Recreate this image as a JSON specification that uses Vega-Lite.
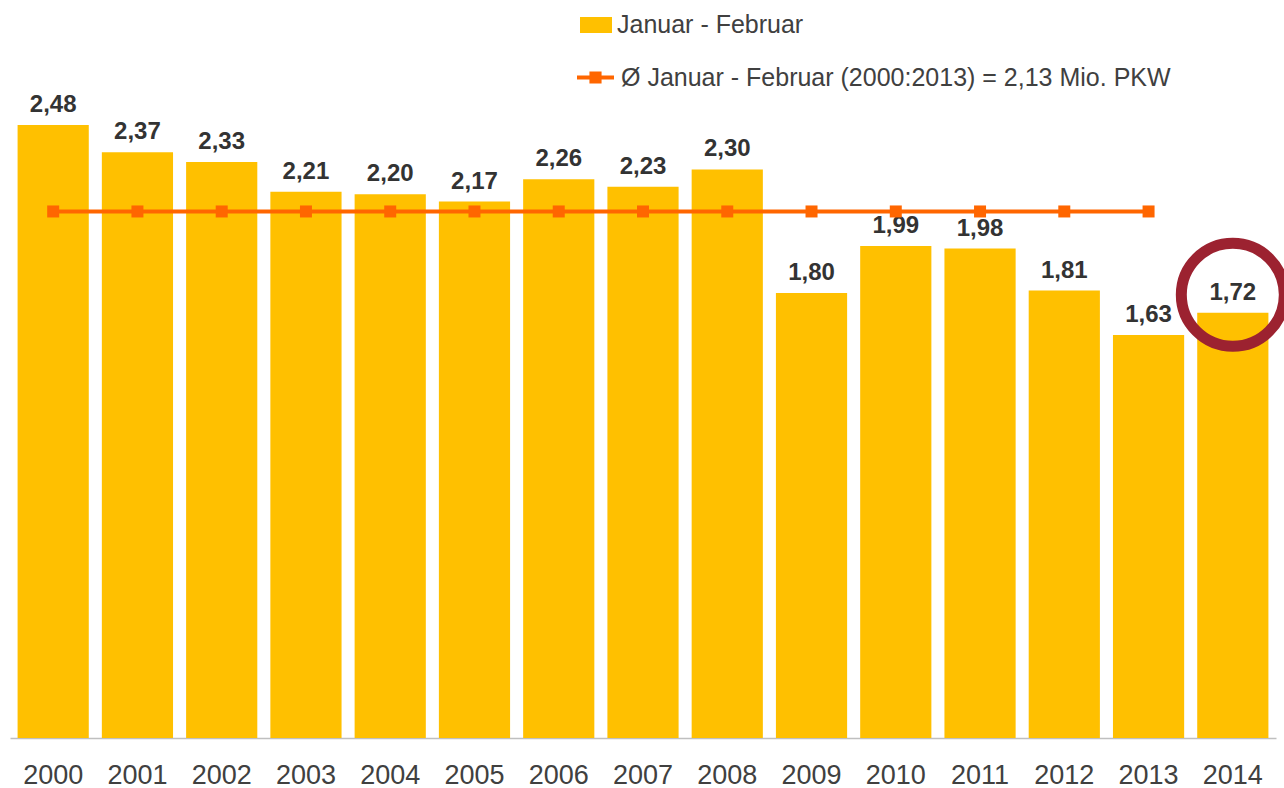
{
  "$schema": "https://vega.github.io/schema/vega-lite/v6.json",
  "autosize": {"type": "none"},
  "width": 1266,
  "height": 618,
  "padding": {"left": 10, "top": 120, "right": 8, "bottom": 50},
  "background": "white",
  "config": {
    "view": {"stroke": null},
    "font": "Liberation Sans",
    "locale": {"number": {"decimal": ",", "thousands": ".", "grouping": [3], "currency": ["", " €"]}}
  },
  "data": {
    "values": [
      {"year": "2000", "value": 2.48, "avg": 2.13},
      {"year": "2001", "value": 2.37, "avg": 2.13},
      {"year": "2002", "value": 2.33, "avg": 2.13},
      {"year": "2003", "value": 2.21, "avg": 2.13},
      {"year": "2004", "value": 2.20, "avg": 2.13},
      {"year": "2005", "value": 2.17, "avg": 2.13},
      {"year": "2006", "value": 2.26, "avg": 2.13},
      {"year": "2007", "value": 2.23, "avg": 2.13},
      {"year": "2008", "value": 2.30, "avg": 2.13},
      {"year": "2009", "value": 1.80, "avg": 2.13},
      {"year": "2010", "value": 1.99, "avg": 2.13},
      {"year": "2011", "value": 1.98, "avg": 2.13},
      {"year": "2012", "value": 1.81, "avg": 2.13},
      {"year": "2013", "value": 1.63, "avg": 2.13},
      {"year": "2014", "value": 1.72, "avg": null}
    ]
  },
  "encoding": {
    "x": {
      "field": "year",
      "type": "ordinal",
      "scale": {"paddingInner": 0.155, "paddingOuter": 0.09},
      "axis": {
        "title": null,
        "labelAngle": 0,
        "ticks": false,
        "tickSize": 0,
        "labelPadding": 45,
        "labelBaseline": "alphabetic",
        "labelFontSize": 27,
        "labelColor": "#404040",
        "labelFont": "Liberation Sans",
        "domainColor": "#BFBFBF",
        "domainWidth": 1.5,
        "grid": false
      }
    }
  },
  "layer": [
    {
      "mark": {"type": "bar"},
      "encoding": {
        "y": {"field": "value", "type": "quantitative", "scale": {"domain": [0, 2.5]}, "axis": null},
        "fill": {
          "datum": "Januar - Februar",
          "type": "nominal",
          "scale": {"range": ["#FFC000"]},
          "legend": {
            "title": null,
            "orient": "none",
            "legendX": 570,
            "legendY": -111,
            "symbolType": "M-1,-0.5H1V0.5H-1Z",
            "symbolSize": 1024,
            "symbolStrokeWidth": 0,
            "labelFontSize": 25,
            "labelColor": "#404040",
            "labelFont": "Liberation Sans",
            "labelOffset": 5,
            "labelLimit": 0
          }
        }
      }
    },
    {
      "mark": {"type": "text", "fontSize": 24, "fontWeight": "bold", "color": "#333333", "baseline": "alphabetic", "dy": -13, "font": "Liberation Sans"},
      "encoding": {
        "y": {"field": "value", "type": "quantitative", "scale": {"domain": [0, 2.5]}},
        "text": {"field": "value", "type": "quantitative", "format": ".2f"}
      }
    },
    {
      "transform": [{"filter": "datum.avg != null"}],
      "mark": {"type": "line", "strokeWidth": 4},
      "encoding": {
        "y": {"field": "avg", "type": "quantitative", "scale": {"domain": [0, 2.5]}},
        "stroke": {
          "datum": "Ø Januar - Februar (2000:2013) = 2,13 Mio. PKW",
          "type": "nominal",
          "scale": {"range": ["#FF6600"]},
          "legend": {
            "title": null,
            "orient": "none",
            "legendX": 565,
            "legendY": -63,
            "symbolType": "M-1,0H1M-0.22,-0.22H0.22V0.22H-0.22Z",
            "symbolSize": 1369,
            "symbolStrokeWidth": 4,
            "symbolFillColor": "#FF6600",
            "labelFontSize": 25,
            "labelColor": "#404040",
            "labelFont": "Liberation Sans",
            "labelOffset": 5,
            "labelLimit": 0
          }
        }
      }
    },
    {
      "transform": [{"filter": "datum.avg != null"}],
      "mark": {"type": "point", "shape": "square", "filled": true, "size": 144, "color": "#FF6600", "opacity": 1},
      "encoding": {
        "y": {"field": "avg", "type": "quantitative", "scale": {"domain": [0, 2.5]}}
      }
    },
    {
      "transform": [{"filter": "datum.year == '2014'"}],
      "mark": {"type": "point", "shape": "circle", "filled": false, "size": 10609, "stroke": "#9C2230", "strokeWidth": 11, "opacity": 1, "yOffset": -18},
      "encoding": {
        "y": {"field": "value", "type": "quantitative", "scale": {"domain": [0, 2.5]}}
      }
    }
  ]
}
